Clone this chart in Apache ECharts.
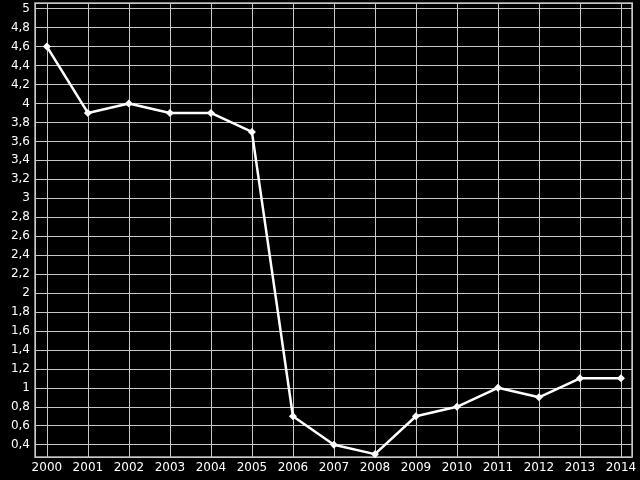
<!DOCTYPE html>
<html><head><meta charset="utf-8">
<script src="https://cdn.jsdelivr.net/npm/echarts@6/dist/echarts.min.js"></script>
<style>html,body{margin:0;padding:0;background:#000}#c{width:640px;height:480px}</style>
</head><body><div id="c"></div>
<script>
const years = [2000,2001,2002,2003,2004,2005,2006,2007,2008,2009,2010,2011,2012,2013,2014];
const values = [4.6,3.9,4.0,3.9,3.9,3.7,0.7,0.4,0.3,0.7,0.8,1.0,0.9,1.1,1.1];
const yTicks = [0.4,0.6,0.8,1,1.2,1.4,1.6,1.8,2,2.2,2.4,2.6,2.8,3,3.2,3.4,3.6,3.8,4,4.2,4.4,4.6,4.8,5];

const chart = echarts.init(document.getElementById('c'), null, {renderer:'canvas'});
const fmtY = v => {
  const r = Math.round(v*10)/10;
  if (Math.abs(v - r) > 1e-6) return '';
  if (!yTicks.some(t => Math.abs(t - r) < 1e-6)) return '';
  return String(r).replace('.', ',');
};
chart.setOption({
  backgroundColor:'#000',
  animation:false,
  grid:{left:35,right:8,top:3,bottom:23,show:true,borderColor:'#8a8a8a',borderWidth:2,backgroundColor:'#000'},
  xAxis:{
    type:'value',min:1999.71,max:2014.27,splitNumber:14,minInterval:1,maxInterval:1,
    axisLine:{show:false},axisTick:{show:false},
    splitLine:{show:true,lineStyle:{color:'#c8c8c8',width:1}},
    axisLabel:{color:'#fff',fontFamily:'DejaVu Sans',fontSize:12,margin:5,
      showMinLabel:false,showMaxLabel:false,
      formatter:v => (Math.abs(v-Math.round(v))<1e-6 && years.includes(Math.round(v))) ? String(Math.round(v)) : ''}
  },
  yAxis:{
    type:'value',min:0.27,max:5.06,splitNumber:24,minInterval:0.2,maxInterval:0.2,
    axisLine:{show:false},axisTick:{show:false},
    splitLine:{show:true,lineStyle:{color:'#c8c8c8',width:1}},
    axisLabel:{color:'#fff',fontFamily:'DejaVu Sans',fontSize:12,margin:5,
      showMinLabel:false,showMaxLabel:false,formatter:fmtY}
  },
  series:[{
    type:'line',
    data: years.map((y,i)=>[y,values[i]]),
    symbol:'diamond',symbolSize:8,showSymbol:true,
    lineStyle:{color:'#fff',width:2.5},
    itemStyle:{color:'#fff'}
  }]
});
</script></body></html>
